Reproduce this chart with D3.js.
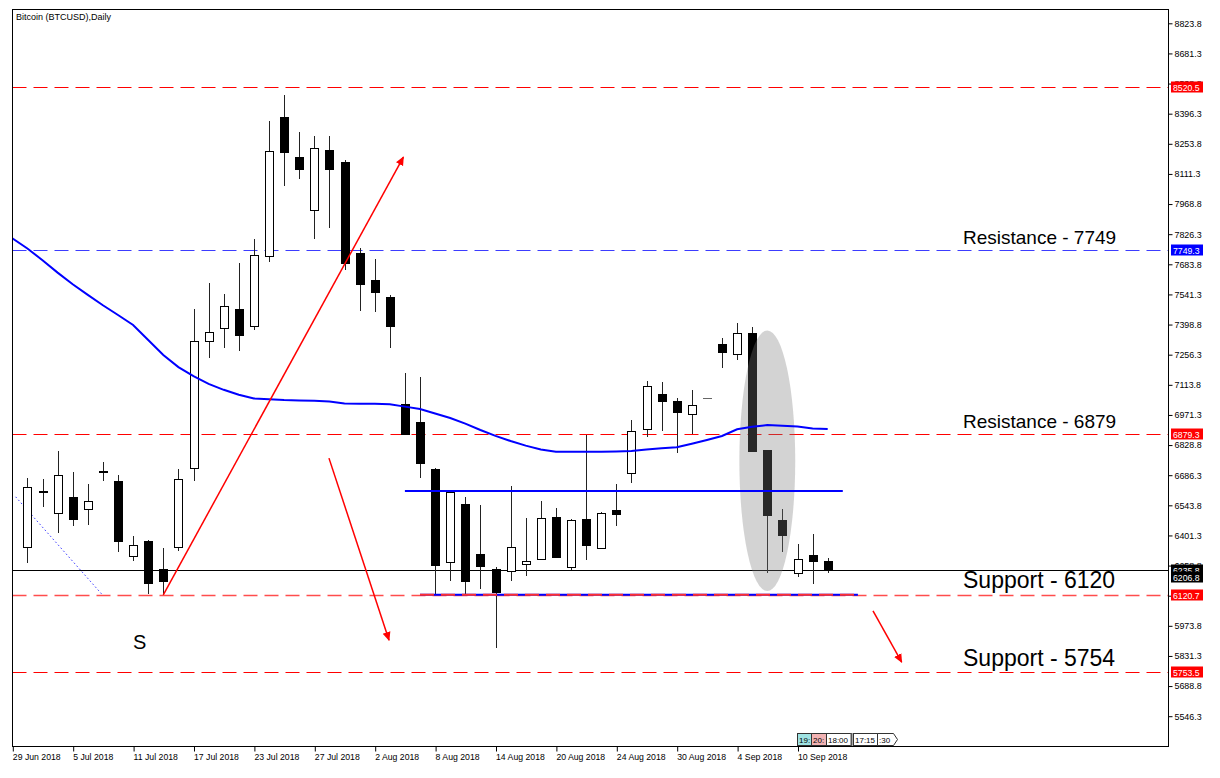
<!DOCTYPE html>
<html><head><meta charset="utf-8">
<script src="https://cdnjs.cloudflare.com/ajax/libs/d3/7.8.5/d3.min.js"></script>
<style>
html,body{margin:0;padding:0;background:#fff;}
svg{display:block;font-family:"Liberation Sans",Arial,sans-serif;}
</style></head><body>
<svg id="chart" width="1220" height="778"></svg>
<script>
// ---------- DATA ----------
const dates = ["29 Jun","2 Jul","3 Jul","4 Jul","5 Jul","6 Jul","9 Jul","10 Jul","11 Jul","12 Jul","13 Jul","16 Jul","17 Jul","18 Jul","19 Jul","20 Jul","23 Jul","24 Jul","25 Jul","26 Jul","27 Jul","30 Jul","31 Jul","1 Aug","2 Aug","3 Aug","6 Aug","7 Aug","8 Aug","9 Aug","10 Aug","13 Aug","14 Aug","15 Aug","16 Aug","17 Aug","20 Aug","21 Aug","22 Aug","23 Aug","24 Aug","27 Aug","28 Aug","29 Aug","30 Aug","31 Aug","2 Sep","3 Sep","4 Sep","5 Sep","6 Sep","7 Sep","10 Sep","11 Sep","12 Sep"];
const openP  = [null,6348,6612,6509,6584,6526,6704,6660,6303,6376,6241,6348,6719,7320,7382,7472,7392,7723,8382,8190,7941,8223,8169,7737,7608,7531,7023,6938,6715,6277,6550,6313,6241,6233,6268,6290,6488,6253,6478,6343,6523,6695,6906,7072,7037,6977,7053,7305,7258,7357,6804,6474,6225,6309,6282];
const highP  = [null,6674,6670,6799,6701,6645,6750,6687,6399,6381,6340,6715,7472,7594,7543,7691,7803,8362,8485,8311,8291,8291,8177,7759,7709,7539,7171,7152,6719,6608,6582,6545,6250,6635,6484,6564,6530,6478,6876,6510,6643,6946,7132,7127,7053,7089,7053,7334,7405,7389,6805,6528,6359,6408,6293];
const lowP   = [null,6272,6534,6411,6446,6451,6660,6321,6280,6124,6121,6329,6659,7239,7288,7275,7372,7693,8056,8086,7802,7854,7657,7461,7457,7289,6876,6673,6119,6187,6119,6149,5870,6187,6208,6285,6295,6238,6285,6340,6446,6648,6865,6897,6793,6881,7053,7192,7231,6800,6222,6324,6206,6170,6222];
const closeP = [null,6632,6608,6687,6478,6563,6701,6375,6357,6175,6187,6668,7322,7365,7487,7351,7726,8221,8216,8135,8235,8135,7689,7592,7551,7391,6881,6745,6263,6605,6187,6258,6134,6348,6279,6482,6298,6473,6357,6506,6504,6894,7107,7039,6987,7017,7053,7268,7360,6802,6499,6403,6291,6282,6236];
const maP = [7806.7,7758.5,7703.2,7644.5,7589.6,7539.5,7490.3,7443.9,7396.6,7325.7,7254.7,7197.5,7154.4,7118.5,7090.1,7066.9,7049.4,7045.6,7041.8,7039.9,7038.1,7034.7,7025.8,7024.8,7023.9,7022.0,7010.6,6999.3,6978.0,6956.7,6930.2,6899.9,6872.5,6847.9,6826.1,6808.2,6797.3,6797.3,6797.3,6797.3,6798.2,6800.6,6807.7,6813.4,6818.1,6835.1,6852.6,6871.5,6903.2,6915.1,6923.6,6920.3,6916.5,6907.0,6904.7];

const tickIndex = [0,4,8,12,16,20,24,28,32,36,40,44,48,52];
const tickLabels = ["29 Jun 2018","5 Jul 2018","11 Jul 2018","17 Jul 2018","23 Jul 2018","27 Jul 2018","2 Aug 2018","8 Aug 2018","14 Aug 2018","20 Aug 2018","24 Aug 2018","30 Aug 2018","4 Sep 2018","10 Sep 2018"];
const priceTicks = [8823.8,8681.3,8538.8,8396.3,8253.8,8111.3,7968.8,7826.3,7683.8,7541.3,7398.8,7256.3,7113.8,6971.3,6828.8,6686.3,6543.8,6401.3,6258.8,6116.3,5973.8,5831.3,5688.8,5546.3];

const redLevels = [8520.5,6879.3,6120.7,5753.5];
const blueLevels = [7749.3];
const bidLevels = [6235.8,6206.8];
const noteTexts = ["Resistance - 7749","Resistance - 6879","Support - 6120","Support - 5754"];
const noteLevels = [7749.3,6879.3,6120.7,5753.5];

const blueSeg = {i0:26.0,i1:55.0,p:6611};
const baseSeg = {i0:27.0,i1:56.0,p:6120.7};
const trendUp = [[10,6120.7],[25.9,8191]];
const arrowDown1 = [[20.97,6767],[24.95,5906]];
const arrowDown2 = [[57.0,6044],[58.9,5802]];
const dotLine = [[0.22,6584],[5.92,6124]];
const ellipseBox = {i0:48.15,i1:51.85,pLo:6138,pHi:7371};

// ---------- SCALES ----------
const svg = d3.select("#chart");
const L=12.5, T=9.5, R=1168.5, B=746.5;
const xs = d3.scaleLinear().domain([0,54]).range([12.3,827.7]);
const ys = d3.scaleLinear().domain([5546.3,8823.8]).range([716.2,23.3]);

svg.append("rect").attr("width",1220).attr("height",778).attr("fill","#fff");
const defs = svg.append("defs");
defs.append("clipPath").attr("id","plot").append("rect").attr("x",L).attr("y",T).attr("width",R-L).attr("height",B-T);
defs.append("marker").attr("id","arr").attr("viewBox","0 0 10 10").attr("refX",9).attr("refY",5)
  .attr("markerWidth",9).attr("markerHeight",9).attr("markerUnits","userSpaceOnUse").attr("orient","auto")
  .append("path").attr("d","M0,0.5 L10,5 L0,9.5 Z").attr("fill","#ff0000");

const g = svg.append("g").attr("clip-path","url(#plot)");

// level lines
const crisp = v => Math.round(v)+0.5;
g.selectAll(".rl").data(redLevels).enter().append("line")
  .attr("x1",L).attr("x2",R).attr("y1",d=>crisp(ys(d))).attr("y2",d=>crisp(ys(d)))
  .attr("stroke",(d)=>d===6120.7?"#ff4d4d":"#ff0000").attr("stroke-width",d=>d===6120.7?1.6:1)
  .attr("stroke-dasharray","14,7");
g.selectAll(".bl").data(blueLevels).enter().append("line")
  .attr("x1",L).attr("x2",R).attr("y1",d=>crisp(ys(d))).attr("y2",d=>crisp(ys(d)))
  .attr("stroke","#3c3cff").attr("stroke-width",1).attr("stroke-dasharray","14,7");
g.selectAll(".bid").data([bidLevels[0]]).enter().append("line")
  .attr("x1",L).attr("x2",R).attr("y1",d=>crisp(ys(d))).attr("y2",d=>crisp(ys(d)))
  .attr("stroke","#000").attr("stroke-width",1);

// blue dotted
g.append("line").attr("x1",xs(dotLine[0][0])).attr("y1",ys(dotLine[0][1])).attr("x2",xs(dotLine[1][0])).attr("y2",ys(dotLine[1][1]))
  .attr("stroke","#3030ff").attr("stroke-width",1).attr("stroke-dasharray","1.5,2.5");

// candles
const idx = d3.range(1,55);
const cg = g.append("g");
idx.forEach(i=>{
  const cx = Math.round(xs(i));
  const o=openP[i], h=highP[i], l=lowP[i], c=closeP[i];
  const up = c>=o;
  cg.append("line").attr("x1",cx+0.5).attr("x2",cx+0.5).attr("y1",Math.round(ys(h))).attr("y2",Math.round(ys(l)))
    .attr("stroke","#222").attr("stroke-width",1);
  let yt = Math.round(ys(Math.max(o,c))), yb = Math.round(ys(Math.min(o,c)));
  if (yb===yt){
    cg.append("line").attr("x1",cx-4).attr("x2",cx+5).attr("y1",yt+0.5).attr("y2",yt+0.5)
      .attr("stroke", i===46?"#666":"#000").attr("stroke-width",i===46?1:2);
  } else {
    cg.append("rect").attr("x",cx-3.5).attr("y",yt+0.5).attr("width",8).attr("height",yb-yt)
      .attr("fill",up?"#fff":"#000").attr("stroke","#000").attr("stroke-width",1);
  }
});

// ellipse overlay
g.append("ellipse")
  .attr("cx",(xs(ellipseBox.i0)+xs(ellipseBox.i1))/2).attr("cy",(ys(ellipseBox.pLo)+ys(ellipseBox.pHi))/2)
  .attr("rx",(xs(ellipseBox.i1)-xs(ellipseBox.i0))/2).attr("ry",(ys(ellipseBox.pLo)-ys(ellipseBox.pHi))/2)
  .attr("fill","#7a7a7a").attr("opacity",0.33);

// moving average
g.append("path").datum(maP).attr("fill","none").attr("stroke","#0000ff").attr("stroke-width",2)
  .attr("d",d3.line().x((d,i)=>xs(i)).y(d=>ys(d)));

// blue horizontal segments
g.append("line").attr("x1",xs(blueSeg.i0)).attr("x2",xs(blueSeg.i1)).attr("y1",ys(blueSeg.p)).attr("y2",ys(blueSeg.p))
  .attr("stroke","#0000ff").attr("stroke-width",2);
g.append("line").attr("x1",xs(baseSeg.i0)).attr("x2",xs(baseSeg.i1)).attr("y1",ys(baseSeg.p)).attr("y2",ys(baseSeg.p))
  .attr("stroke","#0000ff").attr("stroke-width",2);
g.append("line").attr("x1",xs(baseSeg.i0)).attr("x2",xs(baseSeg.i1)).attr("y1",ys(baseSeg.p)).attr("y2",ys(baseSeg.p))
  .attr("stroke","#ff3030").attr("stroke-width",2).attr("stroke-dasharray","14,7");

// red trend line + arrows
[trendUp,arrowDown1,arrowDown2].forEach(seg=>{
  g.append("line").attr("x1",xs(seg[0][0])).attr("y1",ys(seg[0][1])).attr("x2",xs(seg[1][0])).attr("y2",ys(seg[1][1]))
    .attr("stroke","#ff0000").attr("stroke-width",1.5).attr("marker-end","url(#arr)");
});

// annotation texts
g.selectAll(".note").data(noteTexts).enter().append("text")
  .attr("x",963).attr("y",(d,i)=>ys(noteLevels[i])-6.5)
  .attr("font-size",(d)=>d.startsWith("Support")?23:19).attr("fill","#000").text(d=>d);
g.append("text").attr("x",133).attr("y",649).attr("font-size",20).text("S");

// title
svg.append("text").attr("x",16).attr("y",20).attr("font-size",9).text("Bitcoin (BTCUSD),Daily");

// frame
svg.append("rect").attr("x",L).attr("y",T).attr("width",R-L).attr("height",B-T).attr("fill","none").attr("stroke","#000");

// right axis
const ay = svg.append("g").attr("transform",`translate(${R},0)`)
  .call(d3.axisRight(ys).tickValues(priceTicks).tickFormat(d3.format(".1f")).tickSize(4).tickPadding(2));
ay.select(".domain").remove();
ay.selectAll("text").attr("font-size",8.9).attr("font-family","Liberation Sans, Arial, sans-serif").attr("fill","#000");
ay.selectAll("line").attr("stroke","#000");

// price labels
function priceBox(p, fill){
  const yc = ys(p);
  svg.append("rect").attr("x",1171).attr("y",Math.round(yc)-5.5).attr("width",32).attr("height",11).attr("fill",fill);
  svg.append("text").attr("x",1173).attr("y",Math.round(yc)+3.5).attr("font-size",8.7).attr("fill","#fff").text(d3.format(".1f")(p));
}
redLevels.forEach(p=>priceBox(p,"#ff0000"));
blueLevels.forEach(p=>priceBox(p,"#0000ff"));
bidLevels.forEach(p=>priceBox(p,"#000"));

// bottom axis
const ax = svg.append("g").attr("transform",`translate(0,${B})`)
  .call(d3.axisBottom(xs).tickValues(tickIndex).tickFormat((d,k)=>tickLabels[k]).tickSize(5).tickPadding(2));
ax.select(".domain").remove();
ax.selectAll(".tick line").attr("stroke","#000").attr("transform","translate(0.5,0)");
ax.selectAll("text").attr("text-anchor","start").attr("x",0).attr("font-size",8.7)
  .attr("font-family","Liberation Sans, Arial, sans-serif").attr("fill","#000");

// period-separator tags (bottom right)
const tags = [{x:797,w:14,t:"19:",f:"#9fe3e3"},{x:811,w:15,t:"20:",f:"#f2b3b3"},{x:826,w:25,t:"18:00",f:"#fff"},{x:853,w:24,t:"17:15",f:"#fff"}];
tags.forEach(d=>{
  svg.append("rect").attr("x",d.x+0.5).attr("y",733.5).attr("width",d.w).attr("height",12).attr("fill",d.f).attr("stroke","#333");
  svg.append("text").attr("x",d.x+2).attr("y",742.5).attr("font-size",8).text(d.t);
});
svg.append("path").attr("d","M877.5,733.5 L893.5,733.5 L897.5,739.5 L893.5,745.5 L877.5,745.5 Z").attr("fill","#fff").attr("stroke","#333");
svg.append("text").attr("x",879).attr("y",742.5).attr("font-size",8).text(":30");
svg.append("line").attr("x1",851.5).attr("x2",851.5).attr("y1",733).attr("y2",746).attr("stroke","#555").attr("stroke-width",2);
</script>
</body></html>
